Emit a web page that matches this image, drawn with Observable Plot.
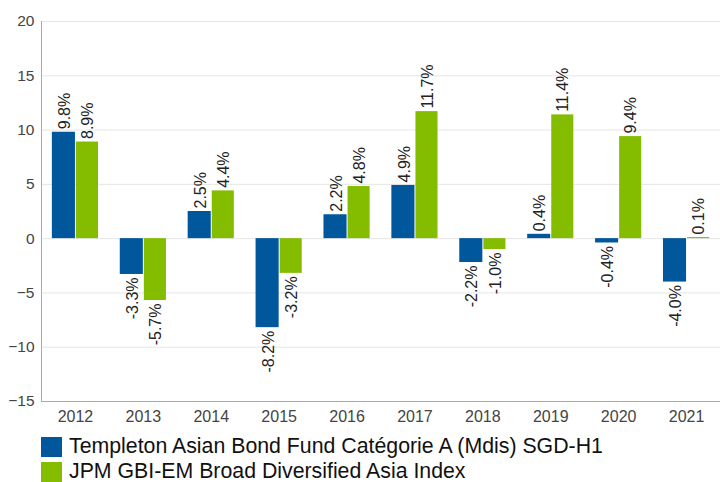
<!DOCTYPE html>
<html>
<head>
<meta charset="utf-8">
<script src="https://cdn.jsdelivr.net/npm/d3@7"></script>
<script src="https://cdn.jsdelivr.net/npm/@observablehq/plot@0.6"></script>
<style>
  body { margin: 0; background: #fff; font-family: "Liberation Sans", Arial, sans-serif; }
  #chart { width: 720px; }
  .legend { margin-left: 41px; margin-top: 4px; }
  .legend .row { display: flex; align-items: center; height: 25px; line-height: 25px; font-size: 21.3px; color: #111; }
  .legend .sw { width: 21px; height: 20px; margin-right: 7px; flex: none; }
</style>
</head>
<body>
<div id="chart"></div>
<script>
const years = ["2012","2013","2014","2015","2016","2017","2018","2019","2020","2021"];
const fundValues = [9.8, -3.3, 2.5, -8.2, 2.2, 4.9, -2.2, 0.4, -0.4, -4.0];
const indexValues = [8.9, -5.7, 4.4, -3.2, 4.8, 11.7, -1.0, 11.4, 9.4, 0.1];
const seriesNames = ["Templeton Asian Bond Fund Catégorie A (Mdis) SGD-H1", "JPM GBI-EM Broad Diversified Asia Index"];
const seriesColors = ["#00579c", "#84bd00"];
const yTicks = [-15, -10, -5, 0, 5, 10, 15, 20];

const fund = years.map((y, i) => ({year: y, value: fundValues[i]}));
const index = years.map((y, i) => ({year: y, value: indexValues[i]}));

const W = 720, H = 430, ML = 41, MR = 0, MT = 21, MB = 29;
const pIn = 0.32, pOut = 0.16;
const step = (W - ML - MR) / (years.length - pIn + 2 * pOut);
const bw = step * (1 - pIn);
const half = bw / 2;

const fmt = v => v.toFixed(1) + "%";
const labelOpts = (data, dx) => [
  Plot.text(data.filter(d => d.value >= 0), {x: "year", y: "value", text: d => fmt(d.value), rotate: -90, textAnchor: "start", dx: dx, dy: -3, fontSize: 16, fill: "#222"}),
  Plot.text(data.filter(d => d.value < 0), {x: "year", y: "value", text: d => fmt(d.value), rotate: -90, textAnchor: "end", dx: dx, dy: 3, fontSize: 16, fill: "#222"})
];

const chart = Plot.plot({
  width: W, height: H,
  marginLeft: ML, marginRight: MR, marginTop: MT, marginBottom: MB,
  style: {fontFamily: "'Liberation Sans', Arial, sans-serif", fontSize: "15.5px", color: "#444", background: "#fff"},
  x: {type: "band", domain: years, paddingInner: pIn, paddingOuter: pOut, round: false, label: null, tickSize: 0, tickPadding: 9},
  y: {domain: [-15, 20], ticks: yTicks, label: null, tickSize: 0, tickPadding: 7},
  marks: [
    Plot.gridY(yTicks, {stroke: "#e6e6e6", strokeOpacity: 1}),
    Plot.barY(fund, {x: "year", y: "value", fill: seriesColors[0], insetRight: half, insetLeft: 0}),
    Plot.barY(index, {x: "year", y: "value", fill: seriesColors[1], insetLeft: half + 1, insetRight: 0}),
    ...labelOpts(fund, -half / 2 + 1),
    ...labelOpts(index, half / 2 + 1),
    Plot.axisX({tickSize: 0, tickPadding: 9, fontSize: 16, label: null}),
    Plot.ruleY([-15], {stroke: "#aaa"}),
    Plot.frame({anchor: "left", stroke: "#aaa"})
  ]
});
document.getElementById("chart").appendChild(chart);

const legend = document.createElement("div");
legend.className = "legend";
seriesNames.forEach((name, i) => {
  const row = document.createElement("div");
  row.className = "row";
  const sw = document.createElement("span");
  sw.className = "sw";
  sw.style.background = seriesColors[i];
  const t = document.createElement("span");
  t.textContent = name;
  row.appendChild(sw); row.appendChild(t);
  legend.appendChild(row);
});
document.getElementById("chart").appendChild(legend);
</script>
</body>
</html>
